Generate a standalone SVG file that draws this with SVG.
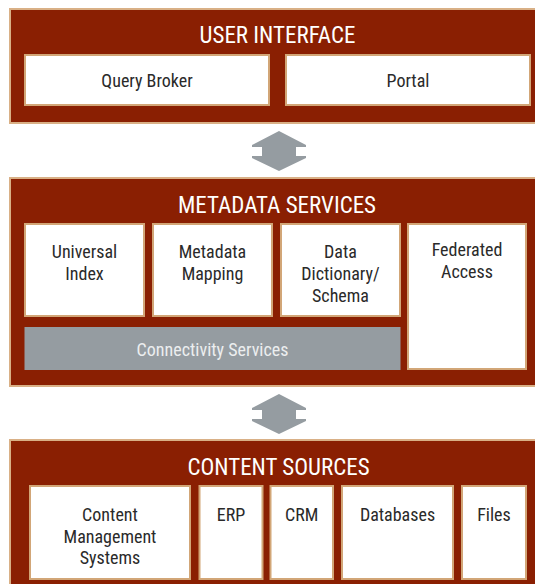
<svg xmlns="http://www.w3.org/2000/svg" width="535" height="584" viewBox="0 0 535 584">
  <style>
    .panel { fill: #8a1f02; stroke: #d9b086; stroke-width: 2; }
    .box { fill: #ffffff; stroke: #d2a677; stroke-width: 2; }
    .bar { fill: #959ca1; }
    .arrow { fill: #959ca1; }
    text { font-family: "Liberation Sans Narrow", "Roboto Condensed", "Liberation Sans", Arial, sans-serif; text-anchor: middle; }
    .title { fill: #ffffff; font-size: 23px; }
    .label { fill: #2a2a2a; font-size: 18px; }
    .barlabel { fill: #eceeef; font-size: 18px; }
  </style>

  <!-- Layer 1: user interface -->
  <g id="user-interface">
    <rect class="panel" x="10" y="9" width="540" height="114"/>
    <text class="title" x="277.5" y="43">USER INTERFACE</text>
  </g>
  <g id="query-broker">
    <rect class="box" x="25" y="55" width="244" height="50"/>
    <text class="label" x="147" y="87">Query Broker</text>
  </g>
  <g id="portal">
    <rect class="box" x="286" y="55" width="244" height="50"/>
    <text class="label" x="408" y="87">Portal</text>
  </g>

  <!-- Layer 2: metadata services -->
  <g id="metadata-services">
    <rect class="panel" x="10" y="178" width="540" height="208"/>
    <text class="title" x="277" y="213">METADATA SERVICES</text>
  </g>
  <g id="universal-index">
    <rect class="box" x="25" y="224" width="119" height="92"/>
    <text class="label" x="84.5" y="258">Universal</text>
    <text class="label" x="84.5" y="280">Index</text>
  </g>
  <g id="metadata-mapping">
    <rect class="box" x="153" y="224" width="119" height="92"/>
    <text class="label" x="212.5" y="258">Metadata</text>
    <text class="label" x="212.5" y="280">Mapping</text>
  </g>
  <g id="data-dictionary">
    <rect class="box" x="281" y="224" width="119" height="92"/>
    <text class="label" x="340.5" y="258">Data</text>
    <text class="label" x="340.5" y="280">Dictionary/</text>
    <text class="label" x="340.5" y="301.5">Schema</text>
  </g>
  <g id="federated-access">
    <rect class="box" x="408" y="224" width="118" height="145"/>
    <text class="label" x="467" y="256">Federated</text>
    <text class="label" x="467" y="278">Access</text>
  </g>
  <g id="connectivity-services">
    <rect class="bar" x="24.5" y="327" width="376" height="43"/>
    <text class="barlabel" x="212.5" y="356">Connectivity Services</text>
  </g>

  <!-- Layer 3: content sources -->
  <g id="content-sources">
    <rect class="panel" x="10" y="440" width="540" height="160"/>
    <text class="title" x="278.5" y="475">CONTENT SOURCES</text>
  </g>
  <g id="cms">
    <rect class="box" x="30" y="486" width="160" height="93"/>
    <text class="label" x="110" y="521">Content</text>
    <text class="label" x="110" y="543">Management</text>
    <text class="label" x="110" y="564">Systems</text>
  </g>
  <g id="erp">
    <rect class="box" x="199.5" y="486" width="63" height="93"/>
    <text class="label" x="231" y="521">ERP</text>
  </g>
  <g id="crm">
    <rect class="box" x="270.5" y="486" width="62.5" height="93"/>
    <text class="label" x="301.7" y="521">CRM</text>
  </g>
  <g id="databases">
    <rect class="box" x="342" y="486" width="111" height="93"/>
    <text class="label" x="397.5" y="521">Databases</text>
  </g>
  <g id="files">
    <rect class="box" x="462" y="486" width="64" height="93"/>
    <text class="label" x="494" y="521">Files</text>
  </g>

  <!-- Two-way arrows between layers -->
  <g id="connectors">
    <path class="arrow" d="M279,131 L306,145 L306,147 L296,147 L296,156 L306,156 L306,158 L279,171 L252,158 L252,156 L262,156 L262,147 L252,147 L252,145 Z"/>
    <path class="arrow" d="M279,394 L306,408 L306,410 L296,410 L296,419 L306,419 L306,421 L279,434 L252,421 L252,419 L262,419 L262,410 L252,410 L252,408 Z"/>
  </g>
</svg>
